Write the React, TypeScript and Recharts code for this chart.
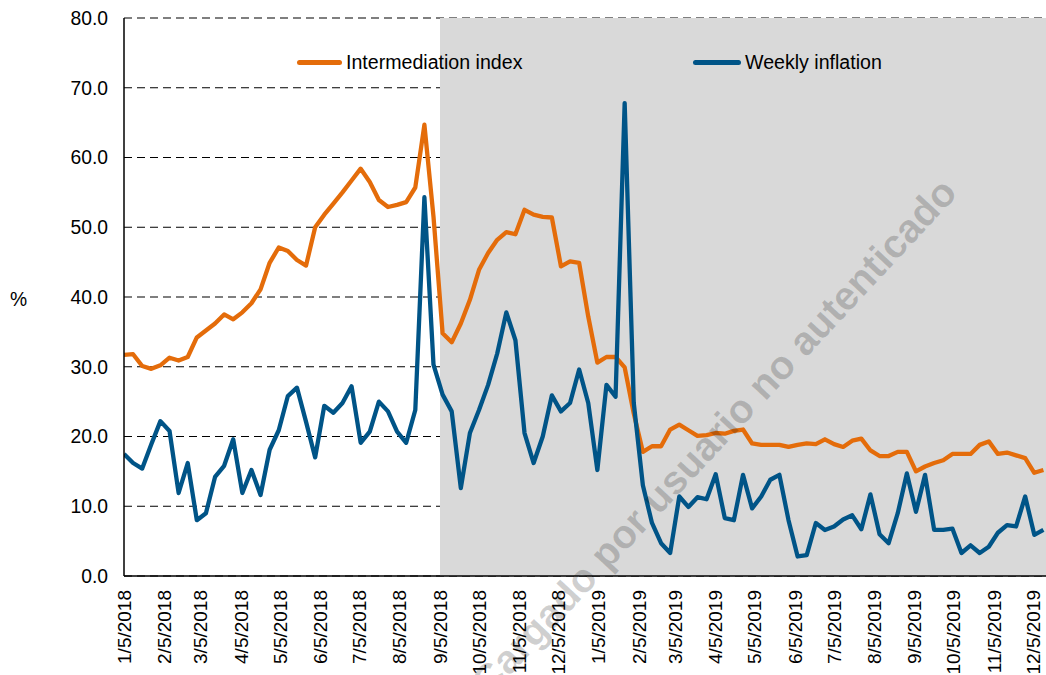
import React from "react";
import { LineChart, Line, XAxis, YAxis, CartesianGrid, ReferenceArea, Legend } from "recharts";

const FONT = "'Liberation Sans', Arial, Helvetica, sans-serif";
const ORANGE = "#E46C0A";
const BLUE = "#005487";

// Weekly observation dates (m/d/yyyy)
const weekDates = [
  "1/5/2018", "1/12/2018", "1/19/2018", "1/26/2018", "2/2/2018", "2/9/2018", "2/16/2018", "2/23/2018",
  "3/2/2018", "3/9/2018", "3/16/2018", "3/23/2018", "3/30/2018", "4/6/2018", "4/13/2018", "4/20/2018",
  "4/27/2018", "5/4/2018", "5/11/2018", "5/18/2018", "5/25/2018", "6/1/2018", "6/8/2018", "6/15/2018",
  "6/22/2018", "6/29/2018", "7/6/2018", "7/13/2018", "7/20/2018", "7/27/2018", "8/3/2018", "8/10/2018",
  "8/17/2018", "8/24/2018", "8/31/2018", "9/7/2018", "9/14/2018", "9/21/2018", "9/28/2018", "10/5/2018",
  "10/12/2018", "10/19/2018", "10/26/2018", "11/2/2018", "11/9/2018", "11/16/2018", "11/23/2018", "11/30/2018",
  "12/7/2018", "12/14/2018", "12/21/2018", "12/28/2018",
  "1/4/2019", "1/11/2019", "1/18/2019", "1/25/2019", "2/1/2019", "2/8/2019", "2/15/2019", "2/22/2019",
  "3/1/2019", "3/8/2019", "3/15/2019", "3/22/2019", "3/29/2019", "4/5/2019", "4/12/2019", "4/19/2019",
  "4/26/2019", "5/3/2019", "5/10/2019", "5/17/2019", "5/24/2019", "5/31/2019", "6/7/2019", "6/14/2019",
  "6/21/2019", "6/28/2019", "7/5/2019", "7/12/2019", "7/19/2019", "7/26/2019", "8/2/2019", "8/9/2019",
  "8/16/2019", "8/23/2019", "8/30/2019", "9/6/2019", "9/13/2019", "9/20/2019", "9/27/2019", "10/4/2019",
  "10/11/2019", "10/18/2019", "10/25/2019", "11/1/2019", "11/8/2019", "11/15/2019", "11/22/2019", "11/29/2019",
  "12/6/2019", "12/13/2019",
];

const intermediationIndex = [
  31.7, 31.8, 30.1, 29.7, 30.2, 31.3, 30.9, 31.4, 34.2, 35.2, 36.2, 37.5, 36.8, 37.8, 39.1, 41.1,
  44.9, 47.1, 46.6, 45.3, 44.5, 50.0, 51.8, 53.4, 55.0, 56.7, 58.4, 56.5, 53.9, 52.9, 53.2, 53.6,
  55.7, 64.7, 51.5, 34.8, 33.5, 36.2, 39.6, 43.9, 46.3, 48.2, 49.3, 49.0, 52.5, 51.8, 51.5, 51.4,
  44.4, 45.1, 44.9, 37.2, 30.6, 31.4, 31.4, 29.9, 23.3, 17.8, 18.6, 18.6, 21.0, 21.7, 20.9, 20.1,
  20.2, 20.5, 20.4, 20.8, 21.0, 19.0, 18.8, 18.8, 18.8, 18.5, 18.8, 19.0, 18.9, 19.6, 18.9, 18.5,
  19.4, 19.7, 18.0, 17.2, 17.2, 17.8, 17.8, 15.0, 15.7, 16.2, 16.6, 17.5, 17.5, 17.5, 18.8, 19.3,
  17.5, 17.7, 17.3, 16.9, 14.8, 15.2,
];

const weeklyInflation = [
  17.5, 16.2, 15.4, 18.9, 22.2, 20.8, 11.9, 16.2, 8.0, 9.0, 14.2, 15.8, 19.6, 11.9, 15.2, 11.6,
  18.1, 20.9, 25.8, 27.0, 22.1, 17.0, 24.4, 23.4, 24.8, 27.2, 19.1, 20.7, 25.0, 23.6, 20.7, 19.1,
  23.8, 54.3, 30.3, 26.0, 23.6, 12.6, 20.5, 23.8, 27.4, 31.9, 37.8, 33.8, 20.5, 16.2, 20.0, 25.9,
  23.6, 24.8, 29.6, 24.8, 15.2, 27.4, 25.7, 67.8, 24.8, 13.0, 7.6, 4.7, 3.3, 11.4, 9.9, 11.3,
  11.0, 14.6, 8.3, 8.0, 14.5, 9.7, 11.4, 13.8, 14.5, 8.0, 2.8, 3.0, 7.6, 6.6, 7.1, 8.1,
  8.7, 6.7, 11.7, 6.0, 4.7, 9.0, 14.7, 9.2, 14.5, 6.6, 6.6, 6.8, 3.3, 4.4, 3.3, 4.2,
  6.2, 7.3, 7.1, 11.4, 5.9, 6.6,
];

const monthTicks = [
  "1/5/2018", "2/5/2018", "3/5/2018", "4/5/2018", "5/5/2018", "6/5/2018", "7/5/2018", "8/5/2018",
  "9/5/2018", "10/5/2018", "11/5/2018", "12/5/2018", "1/5/2019", "2/5/2019", "3/5/2019", "4/5/2019",
  "5/5/2019", "6/5/2019", "7/5/2019", "8/5/2019", "9/5/2019", "10/5/2019", "11/5/2019", "12/5/2019",
];

const yTicks = [0, 10, 20, 30, 40, 50, 60, 70, 80];
const axisStart = "1/5/2018";
const axisEnd = "12/15/2019";
const shadeStart = "9/5/2018";

const seriesNames = ["Intermediation index", "Weekly inflation"];
const yUnit = "%";
const watermark = "Cargado por usuario no autenticado";

const toDay = (s: string) => {
  const [m, d, y] = s.split("/").map(Number);
  const [m0, d0, y0] = axisStart.split("/").map(Number);
  return Math.round((Date.UTC(y, m - 1, d) - Date.UTC(y0, m0 - 1, d0)) / 86400000);
};

const data = weekDates.map((date, i) => ({
  day: toDay(date),
  date,
  intermediation: intermediationIndex[i],
  inflation: weeklyInflation[i],
}));

const tickDays = monthTicks.map(toDay);
const tickLabelByDay: Record<number, string> = {};
monthTicks.forEach((t) => (tickLabelByDay[toDay(t)] = t));

const XTick = (props: any) => {
  const { x, y, payload } = props;
  return (
    <g transform={`translate(${x},${y})`}>
      <text
        transform="rotate(-90)"
        textAnchor="end"
        dy="0.35em"
        fontSize={19}
        fontFamily={FONT}
        fill="#000"
      >
        {tickLabelByDay[payload.value]}
      </text>
    </g>
  );
};

const LegendContent = () => (
  <div style={{ position: "relative", width: 1046, height: 40, fontFamily: FONT, fontSize: 19.6, color: "#000" }}>
    <div style={{ position: "absolute", left: 297, top: 18, width: 45, height: 5, background: ORANGE, borderRadius: 3 }} />
    <span style={{ position: "absolute", left: 346, top: 9, lineHeight: "22px", whiteSpace: "nowrap" }}>{seriesNames[0]}</span>
    <div style={{ position: "absolute", left: 693, top: 18, width: 48, height: 5, background: BLUE, borderRadius: 3 }} />
    <span style={{ position: "absolute", left: 745, top: 9, lineHeight: "22px", whiteSpace: "nowrap" }}>{seriesNames[1]}</span>
  </div>
);

export default function App() {
  return (
    <div style={{ position: "absolute", left: 0, top: 0, width: 1046, height: 675, background: "#fff", fontFamily: FONT }}>
      <LineChart width={1046} height={675} data={data} margin={{ top: 18, right: 0, bottom: 0, left: 0 }}>
        <ReferenceArea
          x1={toDay(shadeStart)}
          x2={toDay(axisEnd)}
          y1={0}
          y2={80}
          fill="#D9D9D9"
          fillOpacity={1}
          stroke="none"
          ifOverflow="hidden"
        />
        <CartesianGrid vertical={false} stroke="#000" strokeWidth={1.2} strokeDasharray="8 5" />
        <XAxis
          dataKey="day"
          type="number"
          domain={[0, toDay(axisEnd)]}
          ticks={tickDays}
          interval={0}
          tick={<XTick />}
          tickLine={false}
          tickSize={0}
          tickMargin={14}
          height={99}
          axisLine={{ stroke: "#000", strokeWidth: 1.5 }}
          allowDataOverflow
        />
        <YAxis
          type="number"
          domain={[0, 80]}
          ticks={yTicks}
          interval={0}
          width={124}
          tickLine={false}
          tickSize={0}
          tickMargin={16}
          tickFormatter={(v: number) => v.toFixed(1)}
          tick={{ fontSize: 19.3, fill: "#000", fontFamily: FONT }}
          axisLine={{ stroke: "#000", strokeWidth: 1.5 }}
        />
        <Legend
          layout="horizontal"
          verticalAlign="middle"
          align="center"
          content={<LegendContent />}
          wrapperStyle={{ position: "absolute", top: 42, left: 0, width: 1046, height: 40 }}
        />
        <Line
          type="linear"
          dataKey="intermediation"
          name={seriesNames[0]}
          stroke={ORANGE}
          strokeWidth={4.3}
          dot={false}
          activeDot={false}
          strokeLinejoin="round"
          isAnimationActive={false}
        />
        <Line
          type="linear"
          dataKey="inflation"
          name={seriesNames[1]}
          stroke={BLUE}
          strokeWidth={4.3}
          dot={false}
          activeDot={false}
          strokeLinejoin="round"
          isAnimationActive={false}
        />
      </LineChart>
      <svg
        width={1046}
        height={675}
        style={{ position: "absolute", left: 0, top: 0, pointerEvents: "none" }}
      >
        <text x={10} y={306} fontSize={19.3} fontFamily={FONT} fill="#000">{yUnit}</text>
        <text
          x={724}
          y={446}
          textAnchor="middle"
          fontSize={40}
          fontWeight="bold"
          fontFamily={FONT}
          fill="#000"
          fillOpacity={0.19}
          transform="rotate(-47 724 446)"
        >
          {watermark}
        </text>
      </svg>
    </div>
  );
}
